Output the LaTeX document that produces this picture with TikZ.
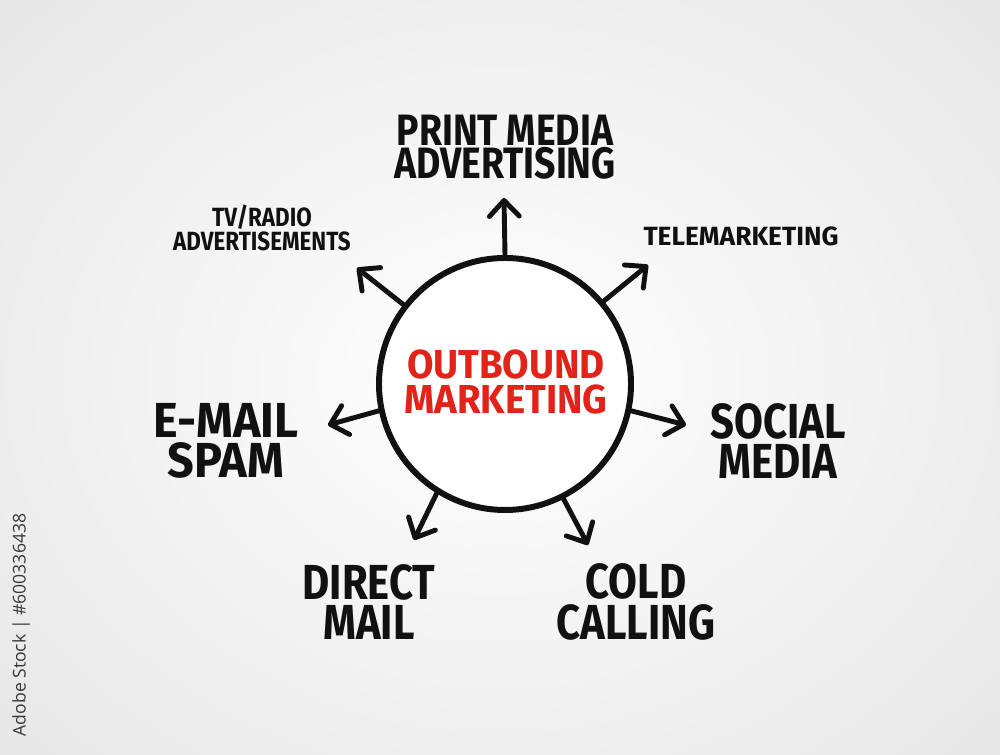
\documentclass[tikz,border=0pt]{standalone}
\usepackage{fontspec}
\newfontfamily\handfont[FakeStretch=0.85]{Fira Sans}
\newfontfamily\midhand[FakeStretch=0.95]{Fira Sans}
\newfontfamily\widehand[FakeStretch=1.0]{Fira Sans}
\newfontfamily\stockfont{Open Sans}
\usepackage{tikz}
\usetikzlibrary{arrows.meta,positioning,shapes.geometric}
\definecolor{markred}{HTML}{E2231A}
\definecolor{ink}{HTML}{111111}
\tikzstyle{hubc}=[circle,draw=ink,fill=white,line width=3.4pt,minimum size=5.04cm,inner sep=0pt]
\tikzstyle{bigtxt}=[align=center,text=ink,inner sep=0pt,font=\handfont\bfseries\fontsize{28}{23}\selectfont]
\tikzstyle{midtxt}=[align=center,text=ink,inner sep=0pt,font=\handfont\bfseries\fontsize{25}{19}\selectfont]
\tikzstyle{smalltxt}=[align=center,text=ink,inner sep=0pt,font=\handfont\bfseries\fontsize{15}{13.8}\selectfont]
\tikzstyle{spoke}=[line width=2.8pt,color=ink,line cap=round,-{Straight Barb[length=9pt,width=17pt,round]}]

\begin{document}
\begin{tikzpicture}
% background
\useasboundingbox (0,0) rectangle (20,15.1);
\path[shading=radial,inner color=white,outer color=black!9] (-3,-3) rectangle (23,18.1);
\node[rotate=90,text=black!78,font=\stockfont\fontsize{10}{12}\selectfont] (stock) at (0.42,2.6) {Adobe Stock | \#600336438};
% hub
\node[hubc] (hub) at (10.1,7.42) {};
\node[align=center,text=markred,inner sep=0pt,font=\midhand\bfseries\fontsize{23}{20}\selectfont] (title) at (10.12,7.46) {OUTBOUND\\MARKETING};
% arrow tips
\coordinate (tPrint) at (10.08,11.14);
\coordinate (tTv) at (7.14,9.74);
\coordinate (tTele) at (12.96,9.8);
\coordinate (tMail) at (6.56,6.6);
\coordinate (tSocial) at (13.72,6.6);
\coordinate (tDirect) at (8.28,4.3);
\coordinate (tCold) at (11.76,4.2);
% labels
\node[midtxt] (print) at (10.1,12.16) {PRINT MEDIA\\ADVERTISING};
\node[smalltxt] (tv) at (5.24,10.54) {TV/RADIO\\ADVERTISEMENTS};
\node[smalltxt,font=\widehand\bfseries\fontsize{15}{13.8}\selectfont] (tele) at (14.82,10.38) {TELEMARKETING};
\node[bigtxt,font=\midhand\bfseries\fontsize{28}{23}\selectfont] (email) at (4.52,6.28) {E-MAIL\\SPAM};
\node[bigtxt] (social) at (15.56,6.28) {SOCIAL\\MEDIA};
\node[bigtxt] (direct) at (7.38,3.06) {DIRECT\\MAIL};
\node[bigtxt] (cold) at (12.72,3.06) {COLD\\CALLING};
\path[spoke]
(hub.90) edge (tPrint)
(hub.142) edge (tTv)
(hub.40) edge (tTele)
(hub.192) edge (tMail)
(hub.348) edge (tSocial)
(hub.238) edge (tDirect)
(hub.297) edge (tCold);
\end{tikzpicture}
\end{document}
